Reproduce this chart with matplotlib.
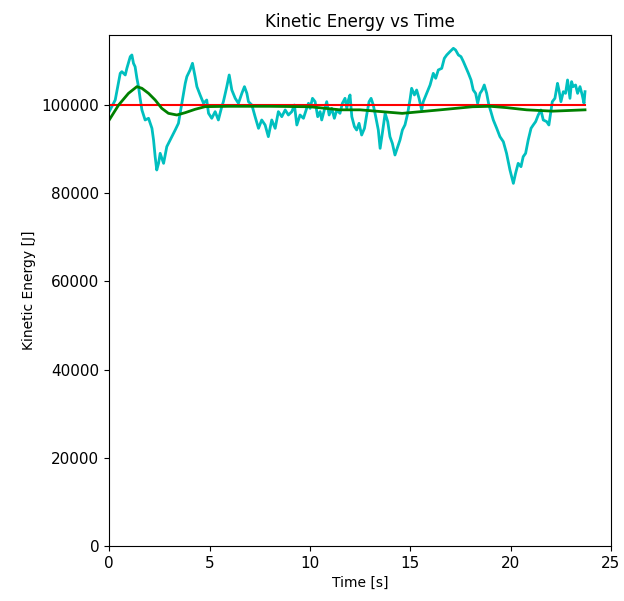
import numpy as np
import matplotlib
matplotlib.use("Agg")
from matplotlib import pyplot as plt

# kinetic energy trace (time [s], energy [J])
t_ke = [0.0, 0.13, 0.30, 0.55, 0.63, 0.80, 0.88, 1.05, 1.13, 1.21, 1.29, 1.38, 1.46, 1.54,
        1.63, 1.79, 1.96, 2.13, 2.21, 2.29, 2.37, 2.46, 2.54, 2.71, 2.87, 3.04, 3.12, 3.29,
        3.45, 3.62, 3.79, 3.87, 4.03, 4.15, 4.28, 4.37, 4.53, 4.70, 4.86,
        4.95, 5.11, 5.28, 5.44, 5.61, 5.69, 5.86, 5.98, 6.11, 6.28, 6.44, 6.61, 6.74, 6.86,
        6.94, 7.11, 7.27, 7.44, 7.60, 7.77, 7.93, 8.10, 8.27, 8.43, 8.60, 8.77, 8.93, 9.10,
        9.23, 9.35, 9.51, 9.68, 9.84,
        9.93, 10.01, 10.13, 10.26, 10.39, 10.51, 10.59, 10.72, 10.84, 10.96, 11.09, 11.22,
        11.34, 11.50, 11.62, 11.75, 11.84, 11.92, 12.00, 12.09, 12.22, 12.33, 12.45, 12.58,
        12.72, 12.83, 12.95, 13.05, 13.16, 13.28, 13.41, 13.50, 13.61, 13.75, 13.88, 13.99,
        14.11, 14.24, 14.38, 14.49, 14.61, 14.74, 14.87,
        15.0, 15.07, 15.21, 15.32, 15.44, 15.57, 15.65, 15.82, 15.99, 16.15, 16.27, 16.40,
        16.57, 16.70, 16.82, 16.98, 17.15, 17.26, 17.40, 17.53, 17.65, 17.76, 17.90, 18.03,
        18.14, 18.26, 18.36, 18.48, 18.59, 18.69, 18.81, 18.92, 19.02, 19.14, 19.31, 19.47,
        19.64, 19.80, 19.97,
        20.14, 20.25, 20.38, 20.52, 20.63, 20.75, 20.88, 21.02, 21.13, 21.25, 21.38, 21.51,
        21.63, 21.80, 21.91, 22.01, 22.08, 22.21, 22.34, 22.41, 22.51, 22.63, 22.74, 22.84,
        22.96, 23.04, 23.12, 23.24, 23.34, 23.46, 23.57, 23.66, 23.71]
ke = [98500, 99620, 101130, 107180, 107560, 106800, 108310, 110960, 111340, 109450, 108690,
      106050, 104160, 101510, 98870, 96600, 96980, 94710, 92060, 88280, 85260, 86770, 89040,
      86770, 90550, 92060, 92820, 94330, 95840, 100380, 104910, 106430, 107940, 109450,
      106430, 104160, 102270, 100380, 101130,
      98110, 96980, 98490, 96600, 99620, 100750, 104160, 106800, 103400, 101510, 100380,
      102640, 104160, 102640, 100750, 99990, 97350, 94710, 96600, 95460, 92820, 96600, 94710,
      98490, 97350, 98870, 97730, 98490, 99990, 95460, 97730, 96980, 99240,
      100380, 99240, 101510, 100750, 97350, 98490, 96600, 98870, 100750, 97730, 99240, 96980,
      98870, 98110, 100380, 101510, 99240, 101130, 102270, 97350, 95090, 94330, 95840, 93190,
      94710, 97730, 100750, 101510, 99990, 97350, 94330, 90170, 93570, 98110, 96220, 92820,
      91300, 88660, 90550, 92060, 94330, 95500, 98000,
      101500, 103780, 102270, 103400, 101510, 98870, 100750, 102640, 104530, 107180, 106050,
      107940, 108310, 110580, 111340, 112090, 112850, 112470, 111340, 110960, 109830, 108690,
      107180, 105670, 103400, 102640, 100380, 102640, 103400, 104530, 102640, 99990, 98490,
      96600, 94710, 92820, 91680, 89040, 85260,
      82230, 84500, 86770, 86010, 88280, 89040, 92060, 94710, 95460, 96220, 97730, 98870,
      96600, 96220, 95460, 98490, 100750, 101510, 104910, 103400, 100750, 103020, 102640,
      105670, 101510, 105290, 104160, 104530, 102640, 104160, 102270, 100380, 103020]

# running average (green)
t_avg = [0.0, 0.47, 0.96, 1.38, 1.63, 1.96, 2.29, 2.62, 2.95, 3.37, 3.79, 4.28, 4.78, 6.0,
         8.0, 10.0, 11.5, 12.5, 14.6, 16.5, 18.1, 19.0, 19.8, 20.8, 22.1, 23.71]
avg = [96600, 100000, 102640, 104160, 103780, 102640, 101130, 99240, 98110, 97730, 98260,
       99020, 99620, 99700, 99700, 99600, 98900, 98900, 98100, 98900, 99600, 99700, 99400,
       98900, 98600, 98900]

# initial energy (red)
t_ref = [0.0, 23.71]
e_ref = [100000, 100000]

fig, ax = plt.subplots(figsize=(6.24, 6.01), dpi=100)
fig.subplots_adjust(left=0.175, right=0.979, top=0.942, bottom=0.0915)

ax.plot(t_ke, ke, color='c', linewidth=2)
ax.plot(t_ref, e_ref, color='r', linewidth=1.5)
ax.plot(t_avg, avg, color='g', linewidth=2)

ax.set_xlim(0, 25)
ax.set_ylim(0, 115900)
ax.set_title('Kinetic Energy vs Time', fontsize=12)
ax.set_xlabel('Time [s]', fontsize=10)
ax.set_ylabel('Kinetic Energy [J]', fontsize=10)
ax.tick_params(labelsize=11)

plt.savefig("out.png")
